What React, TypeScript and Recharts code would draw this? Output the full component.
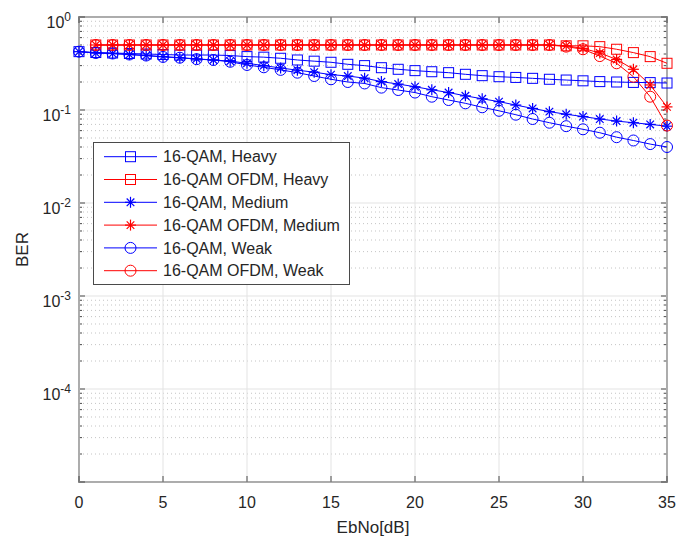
import React from "react";
import {
  LineChart,
  Line,
  XAxis,
  YAxis,
  ReferenceLine,
  ReferenceArea,
  Legend,
} from "recharts";

const FONT = '"Liberation Sans", Arial, Helvetica, sans-serif';
const AXIS_COLOR = "#4a4a4a";
const TEXT_COLOR = "#262626";
const BLUE = "#0000ff";
const RED = "#ff0000";

// Eb/No sweep in dB
const EBNO_DB = [
  0, 1, 2, 3, 4, 5, 6, 7, 8, 9, 10, 11, 12, 13, 14, 15, 16, 17, 18, 19, 20, 21,
  22, 23, 24, 25, 26, 27, 28, 29, 30, 31, 32, 33, 34, 35,
];

// plain 16-QAM over the three channel profiles
const BER_QAM_HEAVY = [
  0.424, 0.415, 0.41, 0.405, 0.4, 0.395, 0.39, 0.39, 0.39, 0.385, 0.375, 0.37,
  0.36, 0.345, 0.335, 0.326, 0.31, 0.3, 0.285, 0.274, 0.265, 0.258, 0.252,
  0.242, 0.234, 0.228, 0.224, 0.219, 0.214, 0.21, 0.206, 0.202, 0.2, 0.198,
  0.197, 0.195,
];
const BER_QAM_MEDIUM = [
  0.424, 0.41, 0.405, 0.395, 0.385, 0.375, 0.365, 0.355, 0.345, 0.335, 0.318,
  0.3, 0.283, 0.268, 0.255, 0.24, 0.232, 0.22, 0.202, 0.19, 0.178, 0.165,
  0.154, 0.142, 0.132, 0.123, 0.113, 0.104, 0.096, 0.09, 0.085, 0.08, 0.076,
  0.073, 0.07, 0.067,
];
const BER_QAM_WEAK = [
  0.424, 0.41, 0.405, 0.395, 0.385, 0.372, 0.365, 0.352, 0.345, 0.33, 0.305,
  0.288, 0.27, 0.252, 0.232, 0.214, 0.2, 0.193, 0.174, 0.164, 0.154, 0.139,
  0.128, 0.118, 0.107, 0.098, 0.089, 0.08, 0.073, 0.067, 0.062, 0.057, 0.051,
  0.047, 0.043, 0.04,
];

// 16-QAM OFDM (no point at 0 dB)
const BER_OFDM_HEAVY = [
  null, 0.5, 0.5, 0.5, 0.5, 0.5, 0.5, 0.5, 0.5, 0.5, 0.5, 0.5, 0.5, 0.5, 0.5,
  0.5, 0.5, 0.5, 0.5, 0.5, 0.5, 0.5, 0.5, 0.5, 0.5, 0.5, 0.5, 0.5, 0.5, 0.49,
  0.49, 0.48, 0.45, 0.414, 0.375, 0.318,
];
const BER_OFDM_MEDIUM = [
  null, 0.5, 0.5, 0.5, 0.5, 0.5, 0.5, 0.5, 0.5, 0.5, 0.5, 0.5, 0.5, 0.5, 0.5,
  0.5, 0.5, 0.5, 0.5, 0.5, 0.5, 0.5, 0.5, 0.5, 0.5, 0.5, 0.5, 0.5, 0.5, 0.49,
  0.46, 0.41, 0.35, 0.274, 0.186, 0.108,
];
const BER_OFDM_WEAK = [
  null, 0.5, 0.5, 0.5, 0.5, 0.5, 0.5, 0.5, 0.5, 0.5, 0.5, 0.5, 0.5, 0.5, 0.5,
  0.5, 0.5, 0.5, 0.5, 0.5, 0.5, 0.5, 0.5, 0.5, 0.5, 0.5, 0.5, 0.5, 0.5, 0.48,
  0.45, 0.38, 0.318, 0.228, 0.139, 0.068,
];

const X_TICKS = [0, 5, 10, 15, 20, 25, 30, 35];
const Y_DECADES = [1e-5, 1e-4, 1e-3, 1e-2, 1e-1, 1];
const Y_LABELED = [1e-4, 1e-3, 1e-2, 1e-1, 1];
const Y_MINOR = Y_DECADES.slice(0, -1).flatMap((d) =>
  [2, 3, 4, 5, 6, 7, 8, 9].map((k) => k * d)
);

type Marker = "square" | "star" | "circle";

const SERIES: { key: string; name: string; color: string; marker: Marker; values: (number | null)[] }[] = [
  { key: "qamHeavy", name: "16-QAM, Heavy", color: BLUE, marker: "square", values: BER_QAM_HEAVY },
  { key: "ofdmHeavy", name: "16-QAM OFDM, Heavy", color: RED, marker: "square", values: BER_OFDM_HEAVY },
  { key: "qamMedium", name: "16-QAM, Medium", color: BLUE, marker: "star", values: BER_QAM_MEDIUM },
  { key: "ofdmMedium", name: "16-QAM OFDM, Medium", color: RED, marker: "star", values: BER_OFDM_MEDIUM },
  { key: "qamWeak", name: "16-QAM, Weak", color: BLUE, marker: "circle", values: BER_QAM_WEAK },
  { key: "ofdmWeak", name: "16-QAM OFDM, Weak", color: RED, marker: "circle", values: BER_OFDM_WEAK },
];

const rows = EBNO_DB.map((ebno, i) => {
  const row: Record<string, number | null> = { ebno };
  SERIES.forEach((s) => (row[s.key] = s.values[i]));
  return row;
});

function MarkerShape({ kind, cx, cy, color }: { kind: Marker; cx: number; cy: number; color: string }) {
  if (kind === "square") {
    return <rect x={cx - 5} y={cy - 5} width={10} height={10} fill="none" stroke={color} strokeWidth={1} />;
  }
  if (kind === "circle") {
    return <circle cx={cx} cy={cy} r={5.5} fill="none" stroke={color} strokeWidth={1} />;
  }
  const d = 3.8;
  return (
    <g stroke={color} strokeWidth={1.2}>
      <line x1={cx - 5.5} y1={cy} x2={cx + 5.5} y2={cy} />
      <line x1={cx} y1={cy - 5.5} x2={cx} y2={cy + 5.5} />
      <line x1={cx - d} y1={cy - d} x2={cx + d} y2={cy + d} />
      <line x1={cx - d} y1={cy + d} x2={cx + d} y2={cy - d} />
    </g>
  );
}

const makeDot = (kind: Marker, color: string) => (props: any) => {
  const { cx, cy, index } = props;
  if (cx == null || cy == null || props.value == null) return <g key={`d-${index}`} />;
  return (
    <g key={`d-${index}`}>
      <MarkerShape kind={kind} cx={cx} cy={cy} color={color} />
    </g>
  );
};

// horizontal guide: full-width line plus short inward ticks on both sides
const hGuide = (stroke: string, dash: string | undefined, tick: number) => (p: any) => {
  const left = Math.min(p.x1, p.x2);
  const right = Math.max(p.x1, p.x2);
  return (
    <g>
      <line x1={left} y1={p.y1} x2={right} y2={p.y2} stroke={stroke} strokeDasharray={dash} />
      <line x1={left} y1={p.y1} x2={left + tick} y2={p.y1} stroke={AXIS_COLOR} />
      <line x1={right - tick} y1={p.y1} x2={right} y2={p.y1} stroke={AXIS_COLOR} />
    </g>
  );
};

const vGuide = (p: any) => {
  const top = Math.min(p.y1, p.y2);
  const bottom = Math.max(p.y1, p.y2);
  return (
    <g>
      <line x1={p.x1} y1={top} x2={p.x2} y2={bottom} stroke="#e3e3e3" />
      <line x1={p.x1} y1={top} x2={p.x1} y2={top + 6} stroke={AXIS_COLOR} />
      <line x1={p.x1} y1={bottom - 6} x2={p.x1} y2={bottom} stroke={AXIS_COLOR} />
    </g>
  );
};

const XTick = ({ x, y, payload }: any) => (
  <text x={x} y={y + 25.5} textAnchor="middle" fontSize={16} fontFamily={FONT} fill={TEXT_COLOR}>
    {payload.value}
  </text>
);

const YTick = ({ x, y, payload }: any) => {
  const exp = Math.round(Math.log10(payload.value));
  return (
    <text x={x - 8} y={y} textAnchor="end" fontFamily={FONT} fill={TEXT_COLOR}>
      <tspan dy={11.3} fontSize={16}>10</tspan>
      <tspan dy={-7.6} fontSize={12}>{String(exp)}</tspan>
    </text>
  );
};

function LegendBox() {
  const rowGap = 22.8;
  return (
    <svg width={257} height={143} style={{ display: "block" }}>
      <rect x={0.5} y={0.5} width={256} height={142} fill="#ffffff" stroke={AXIS_COLOR} />
      {SERIES.map((s, i) => {
        const cy = 14.7 + i * rowGap;
        return (
          <g key={s.key}>
            <line x1={11} y1={cy} x2={64} y2={cy} stroke={s.color} strokeWidth={1} />
            <MarkerShape kind={s.marker} cx={37.5} cy={cy} color={s.color} />
            <text x={70} y={cy + 5.7} fontSize={16} fontFamily={FONT} fill={TEXT_COLOR}>
              {s.name}
            </text>
          </g>
        );
      })}
    </svg>
  );
}

export default function App() {
  return (
    <div style={{ position: "absolute", left: 0, top: 0, background: "#ffffff" }}>
      <LineChart width={677} height={545} data={rows} margin={{ top: 17, right: 10, bottom: 0, left: 0 }}>
        <XAxis
          dataKey="ebno"
          type="number"
          domain={[0, 35]}
          ticks={X_TICKS}
          height={63}
          tickSize={0}
          tickMargin={0}
          tickLine={false}
          axisLine={false}
          tick={<XTick />}
          label={{
            value: "EbNo[dB]",
            position: "insideBottom",
            offset: 12,
            style: { fontSize: 17, fontFamily: FONT, fill: TEXT_COLOR },
          }}
        />
        <YAxis
          type="number"
          scale="log"
          domain={[1e-5, 1]}
          allowDataOverflow
          ticks={Y_LABELED}
          width={79}
          tickSize={0}
          tickMargin={0}
          tickLine={false}
          axisLine={false}
          tick={<YTick />}
          label={{
            value: "BER",
            angle: -90,
            position: "insideLeft",
            offset: 22,
            style: { fontSize: 17, fontFamily: FONT, fill: TEXT_COLOR, textAnchor: "middle" },
          }}
        />
        {Y_MINOR.map((v) => (
          <ReferenceLine key={`m-${v}`} y={v} shape={hGuide("#c4c4c4", "1 3", 3)} />
        ))}
        {Y_DECADES.map((v) => (
          <ReferenceLine key={`M-${v}`} y={v} shape={hGuide("#e3e3e3", undefined, 6)} />
        ))}
        {X_TICKS.map((v) => (
          <ReferenceLine key={`x-${v}`} x={v} shape={vGuide} />
        ))}
        <ReferenceArea x1={0} x2={35} y1={1e-5} y2={1} fill="none" stroke={AXIS_COLOR} strokeWidth={1.5} />
        {SERIES.map((s) => (
          <Line
            key={s.key}
            dataKey={s.key}
            name={s.name}
            type="linear"
            stroke={s.color}
            strokeWidth={1}
            dot={makeDot(s.marker, s.color)}
            activeDot={false}
            isAnimationActive={false}
          />
        ))}
        <Legend
          layout="vertical"
          align="center"
          verticalAlign="middle"
          wrapperStyle={{ left: 93, top: 142, width: 257, height: 143 }}
          content={() => <LegendBox />}
        />
      </LineChart>
    </div>
  );
}
